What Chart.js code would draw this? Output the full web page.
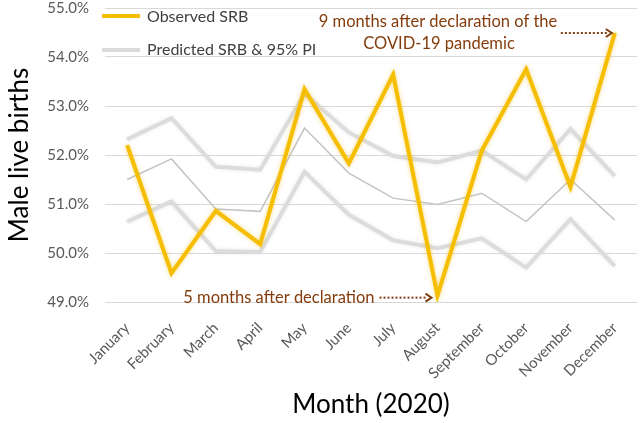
<!DOCTYPE html>
<html>
<head>
<meta charset="utf-8">
<script src="https://cdn.jsdelivr.net/npm/chart.js@4"></script>
<style>
  html, body { margin: 0; padding: 0; background: #fff; }
  #wrap { width: 640px; height: 423px; position: relative; }
</style>
</head>
<body>
<div id="wrap"><canvas id="srbChart"></canvas></div>
<script>
const months = ['January','February','March','April','May','June','July','August','September','October','November','December'];
const observedSRB = [52.2, 49.59, 50.86, 50.18, 53.34, 51.83, 53.64, 49.13, 52.09, 53.75, 51.35, 54.49];
const predictedUpper = [52.32, 52.75, 51.76, 51.7, 53.25, 52.46, 51.98, 51.85, 52.09, 51.5, 52.53, 51.57];
const predictedSRB = [51.5, 51.92, 50.9, 50.85, 52.55, 51.63, 51.12, 50.99, 51.22, 50.64, 51.5, 50.67];
const predictedLower = [50.64, 51.05, 50.04, 50.02, 51.66, 50.78, 50.26, 50.1, 50.3, 49.7, 50.69, 49.73];
const yTicks = [49, 50, 51, 52, 53, 54, 55];

const FONT = 'Lato, "Liberation Sans", sans-serif';
const noteColor = '#843C0C';

// soft glow on the lines, like the office chart
const glowPlugin = {
  id: 'glow',
  beforeDatasetDraw(chart, args) {
    const ds = chart.data.datasets[args.index];
    const ctx = chart.ctx;
    ctx.save();
    if (ds.glow) {
      ctx.shadowColor = ds.glow;
      ctx.shadowBlur = 4;
    }
  },
  afterDatasetDraw(chart) {
    chart.ctx.restore();
  }
};

function dottedArrow(ctx, x1, x2, y) {
  ctx.save();
  ctx.strokeStyle = '#7F3F10';
  ctx.lineWidth = 2;
  ctx.setLineDash([2, 2]);
  ctx.beginPath();
  ctx.moveTo(x1, y);
  ctx.lineTo(x2 - 4, y);
  ctx.stroke();
  ctx.setLineDash([]);
  ctx.beginPath();
  ctx.moveTo(x2 - 6, y - 4);
  ctx.lineTo(x2, y);
  ctx.lineTo(x2 - 6, y + 4);
  ctx.stroke();
  ctx.restore();
}

const notesPlugin = {
  id: 'notes',
  afterDraw(chart) {
    const { ctx, chartArea } = chart;
    const xs = chart.scales.x, ys = chart.scales.y;
    ctx.save();

    // legend
    const lx = chartArea.left - 3;
    ctx.lineCap = 'butt';
    ctx.lineWidth = 4;
    ctx.strokeStyle = '#F6BE00';
    ctx.beginPath(); ctx.moveTo(lx, 16); ctx.lineTo(lx + 38, 16); ctx.stroke();
    ctx.strokeStyle = '#DADADA';
    ctx.beginPath(); ctx.moveTo(lx, 50); ctx.lineTo(lx + 38, 50); ctx.stroke();
    ctx.font = '16px ' + FONT;
    ctx.fillStyle = '#404040';
    ctx.textAlign = 'left';
    ctx.textBaseline = 'middle';
    ctx.fillText('Observed SRB', lx + 45, 17);
    ctx.fillText('Predicted SRB & 95% PI', lx + 45, 50);

    // annotations
    ctx.font = '16.5px ' + FONT;
    ctx.fillStyle = noteColor;
    const decX = xs.getPixelForValue(11), decY = ys.getPixelForValue(observedSRB[11]);
    ctx.textAlign = 'center';
    ctx.fillText('9 months after declaration of the', 438, 22);
    ctx.fillText('COVID-19 pandemic', 439, 44);
    dottedArrow(ctx, decX - 54, decX - 3, decY);

    const augX = xs.getPixelForValue(7), augY = ys.getPixelForValue(observedSRB[7]);
    ctx.textAlign = 'right';
    ctx.fillText('5 months after declaration', augX - 63, augY + 2);
    dottedArrow(ctx, augX - 58, augX - 6, augY + 2);

    ctx.restore();
  }
};

new Chart(document.getElementById('srbChart'), {
  type: 'line',
  data: {
    labels: months,
    datasets: [
      {
        label: 'Observed SRB',
        data: observedSRB,
        borderColor: '#F6BE00',
        borderWidth: 4,
        glow: 'rgba(240,180,0,0.5)'
      },
      {
        label: 'Upper 95% PI',
        data: predictedUpper,
        borderColor: '#DCDCDC',
        borderWidth: 4,
        glow: 'rgba(0,0,0,0.08)'
      },
      {
        label: 'Predicted SRB',
        data: predictedSRB,
        borderColor: '#C4C4C4',
        borderWidth: 1.5
      },
      {
        label: 'Lower 95% PI',
        data: predictedLower,
        borderColor: '#DCDCDC',
        borderWidth: 4,
        glow: 'rgba(0,0,0,0.08)'
      }
    ]
  },
  options: {
    responsive: true,
    maintainAspectRatio: false,
    animation: false,
    devicePixelRatio: 1,
    elements: {
      point: { radius: 0, hoverRadius: 0 },
      line: { tension: 0, borderJoinStyle: 'miter', borderCapStyle: 'butt' }
    },
    layout: { padding: { top: 8, right: 3, left: 0, bottom: 0 } },
    plugins: {
      legend: { display: false },
      tooltip: { enabled: false }
    },
    scales: {
      x: {
        offset: true,
        grid: { display: false },
        border: { display: false },
        ticks: {
          color: '#595959',
          font: { family: FONT, size: 15 },
          minRotation: 45,
          maxRotation: 45,
          padding: 9,
          autoSkip: false
        },
        title: {
          display: true,
          text: 'Month (2020)',
          color: '#000',
          font: { family: FONT, size: 26 },
          padding: { top: 0, bottom: 3 }
        },
        afterFit(scale) { scale.height = 121; }
      },
      y: {
        min: 49,
        max: 55,
        afterBuildTicks(scale) { scale.ticks = yTicks.map(v => ({ value: v })); },
        grid: { color: '#D9D9D9', lineWidth: 1, drawTicks: false },
        border: { display: false },
        ticks: {
          color: '#595959',
          font: { family: FONT, size: 15 },
          padding: 16,
          callback: v => v.toFixed(1) + '%'
        },
        title: {
          display: true,
          text: 'Male live births',
          color: '#000',
          font: { family: FONT, size: 26 },
          padding: { top: 4, bottom: 0 }
        },
        afterFit(scale) {
          scale.width = 105;
          scale.paddingTop = 0;
          scale.paddingBottom = 0;
        }
      }
    }
  },
  plugins: [glowPlugin, notesPlugin]
});
</script>
</body>
</html>
